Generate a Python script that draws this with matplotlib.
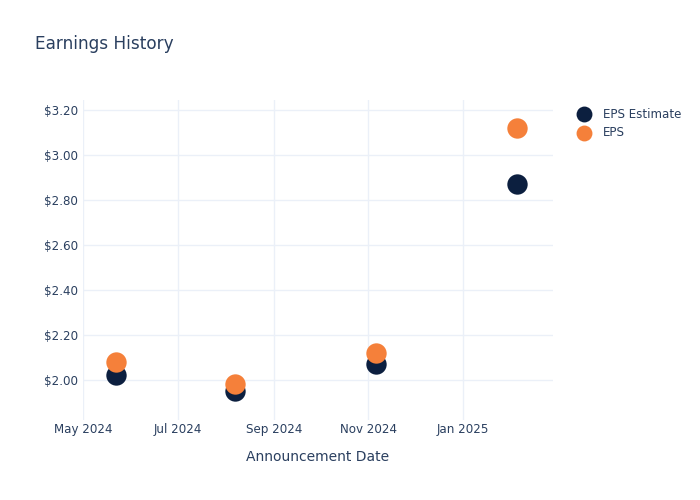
import matplotlib
matplotlib.use('Agg')
import matplotlib.pyplot as plt
import matplotlib.dates as mdates
import numpy as np
import pandas as pd

# data ---------------------------------------------------------------
dates = pd.to_datetime(['2024-05-22', '2024-08-07', '2024-11-06', '2025-02-05'])
eps_estimate = [2.02, 1.95, 2.07, 2.87]
eps_actual = [2.08, 1.98, 2.12, 3.12]
yticks = [2.0, 2.2, 2.4, 2.6, 2.8, 3.0, 3.2]
xticks = pd.to_datetime(['2024-05-01', '2024-07-01', '2024-09-01', '2024-11-01', '2025-01-01'])

# style --------------------------------------------------------------
text_col = '#2a3f5f'
grid_col = '#ebf0f8'
navy = '#0c1f3f'
orange = '#f5803a'

fig = plt.figure(figsize=(7, 5), dpi=100)
ax = fig.add_axes([0.1186, 0.16, 0.6714, 0.64])

ax.scatter(dates, eps_estimate, s=215, color=navy, label='EPS Estimate', zorder=3, linewidths=0)
ax.scatter(dates, eps_actual, s=215, color=orange, label='EPS', zorder=4, linewidths=0)

ax.set_xlim(pd.Timestamp('2024-05-01'), pd.Timestamp('2025-02-28'))
ax.set_ylim(1.822, 3.244)
ax.set_yticks(yticks)
ax.set_yticklabels(['${:.2f}'.format(v) for v in yticks])
ax.set_xticks(xticks)
ax.xaxis.set_major_formatter(mdates.DateFormatter('%b %Y'))

for s in ax.spines.values():
    s.set_visible(False)
ax.grid(True, color=grid_col, linewidth=1)
ax.set_axisbelow(True)
ax.tick_params(length=0, colors=text_col, labelsize=8.6)
ax.tick_params(axis='y', pad=3.5)
ax.tick_params(axis='x', pad=2.5)

ax.set_xlabel('Announcement Date', color=text_col, fontsize=10, labelpad=9.5)
fig.text(0.05, 0.912, 'Earnings History', color=text_col, fontsize=12.2, va='center')

leg = ax.legend(loc='upper left', bbox_to_anchor=(1.017, 1.01), frameon=False,
                fontsize=8.6, handletextpad=0.6, labelspacing=0.45,
                scatterpoints=1, markerscale=0.78)
for t in leg.get_texts():
    t.set_color(text_col)

fig.savefig('out.png', dpi=100)
